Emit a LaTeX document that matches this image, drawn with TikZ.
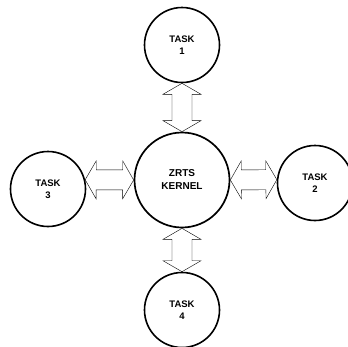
\documentclass[tikz,border=0pt]{standalone}
\usepackage{fontspec}
\setmainfont{Liberation Sans}
\usetikzlibrary{calc}
\begin{document}
\begin{tikzpicture}[x=1pt,y=-1pt,
  task/.style={circle,draw,line width=1.6pt,minimum size=75pt,inner sep=0pt,align=center,
    font=\fontsize{9.5}{12.5}\selectfont\bfseries},
  kernel/.style={circle,draw,line width=1.7pt,minimum size=95pt,inner sep=0pt,align=center,
    font=\fontsize{10}{13}\selectfont\bfseries},
  dbl/.style={line width=1.5pt,line join=miter,to path={
    -- ($($(\tikztostart)!11pt!(\tikztotarget)$)!19pt!90:(\tikztotarget)$)
    -- ($($(\tikztostart)!11pt!(\tikztotarget)$)!10pt!90:(\tikztotarget)$)
    -- ($($(\tikztotarget)!11pt!(\tikztostart)$)!10pt!-90:(\tikztostart)$)
    -- ($($(\tikztotarget)!11pt!(\tikztostart)$)!19pt!-90:(\tikztostart)$)
    -- (\tikztotarget)
    -- ($($(\tikztotarget)!11pt!(\tikztostart)$)!19pt!90:(\tikztostart)$)
    -- ($($(\tikztotarget)!11pt!(\tikztostart)$)!10pt!90:(\tikztostart)$)
    -- ($($(\tikztostart)!11pt!(\tikztotarget)$)!10pt!-90:(\tikztotarget)$)
    -- ($($(\tikztostart)!11pt!(\tikztotarget)$)!19pt!-90:(\tikztotarget)$)
    -- cycle}}]
\useasboundingbox (0,0) rectangle (348,346);
\node[kernel] (k) at (182,180) {ZRTS\\KERNEL};
\node[task] (t1) at (182,45) {TASK\\1};
\node[task] (t2) at (315,183) {TASK\\2};
\node[task] (t3) at (48,189) {TASK\\3};
\node[task] (t4) at (182,310) {TASK\\4};
\draw (t1.south) to[dbl] (k.north);
\draw (t4.north) to[dbl] (k.south);
\draw (t3.14) to[dbl] (k.west);
\draw (t2.175) to[dbl] (k.east);
\end{tikzpicture}
\end{document}
